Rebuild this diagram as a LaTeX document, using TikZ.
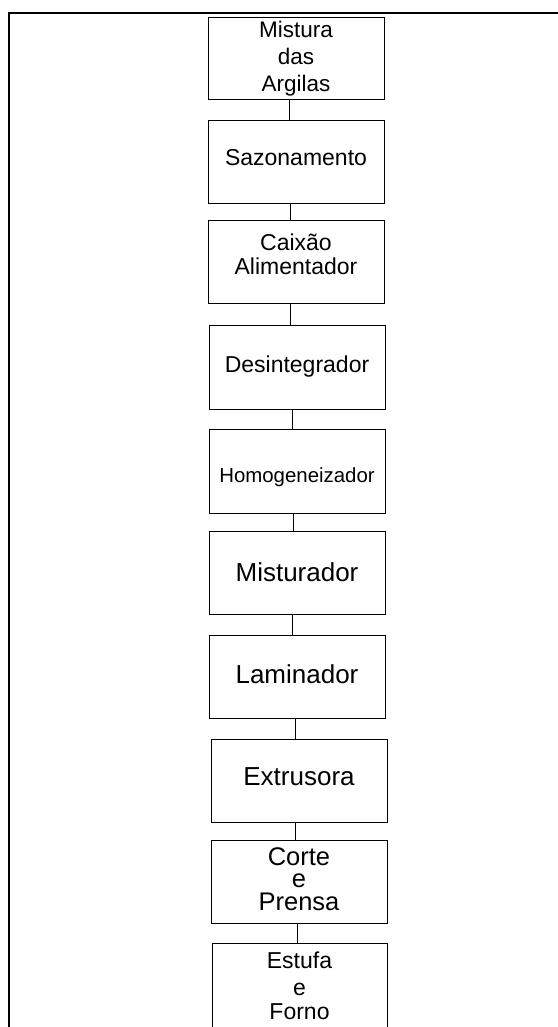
\documentclass[tikz,border=0pt]{standalone}
\usepackage{fontspec}
\setmainfont{Liberation Sans}
\newcommand\liftby[2]{\raisebox{#1}[\height][\depth]{#2}}
\begin{document}
\begin{tikzpicture}[x=1pt,y=1pt,
  stepbox/.style={draw=black, line width=1pt, rectangle, minimum width=176pt, minimum height=83pt, inner sep=0pt, align=center, text=black},
  fA/.style={font=\fontsize{22.5}{27}\selectfont},
  fB/.style={font=\fontsize{23}{24}\selectfont},
  fC/.style={font=\fontsize{26}{26}\selectfont},
  fD/.style={font=\fontsize{20.4}{24}\selectfont},
  fE/.style={font=\fontsize{25.5}{25}\selectfont},
  conn/.style={draw=black, line width=1pt},
  frame/.style={draw=black, line width=2pt}]
\useasboundingbox (0,0) rectangle (557,-1027);
\draw[frame] (9,-1030) -- (9,-13.3) -- (560,-13.3);
\node[stepbox, fA, minimum height=82pt] (b1) at (296,-59) {Mistura\\das\\Argilas};
\node[stepbox, fB, minimum height=82pt] (b2) at (296,-162) {\liftby{4pt}{Sazonamento}};
\node[stepbox, fB] (b3) at (296,-261.5) {\liftby{7pt}{Caixão}\\\liftby{7pt}{Alimentador}};
\node[stepbox, fB, minimum height=84pt] (b4) at (297,-367) {Desintegrador};
\node[stepbox, fD, minimum height=84pt] (b5) at (297,-471) {\liftby{-6pt}{Homogeneizador}};
\node[stepbox, fC] (b6) at (297,-572.5) {Misturador};
\node[stepbox, fC] (b7) at (297,-676.5) {\liftby{2pt}{Laminador}};
\node[stepbox, fC] (b8) at (299,-780.5) {\liftby{3.5pt}{Extrusora}};
\node[stepbox, fE] (b9) at (299,-881.5) {\liftby{2pt}{Corte}\\[-3pt]\liftby{2pt}{e}\\[-2pt]\liftby{2pt}{Prensa}};
\node[stepbox, fB, minimum width=175pt, minimum height=86pt] (b10) at (299.5,-986) {Estufa\\[3pt]e\\Forno};
\draw[conn] ([xshift=-7pt]b1.south) -- ([xshift=-7pt]b2.north);
\draw[conn] ([xshift=-6pt]b2.south) -- ([xshift=-6pt]b3.north);
\draw[conn] ([xshift=-6pt]b3.south) -- ([xshift=-7pt]b4.north);
\draw[conn] ([xshift=-5pt]b4.south) -- ([xshift=-5pt]b5.north);
\draw[conn] ([xshift=-4pt]b5.south) -- ([xshift=-4pt]b6.north);
\draw[conn] ([xshift=-5pt]b6.south) -- ([xshift=-5pt]b7.north);
\draw[conn] ([xshift=-2pt]b7.south) -- ([xshift=-4pt]b8.north);
\draw[conn] ([xshift=-4pt]b8.south) -- ([xshift=-4pt]b9.north);
\draw[conn] ([xshift=-2pt]b9.south) -- ([xshift=-2.5pt]b10.north);
\end{tikzpicture}
\end{document}
